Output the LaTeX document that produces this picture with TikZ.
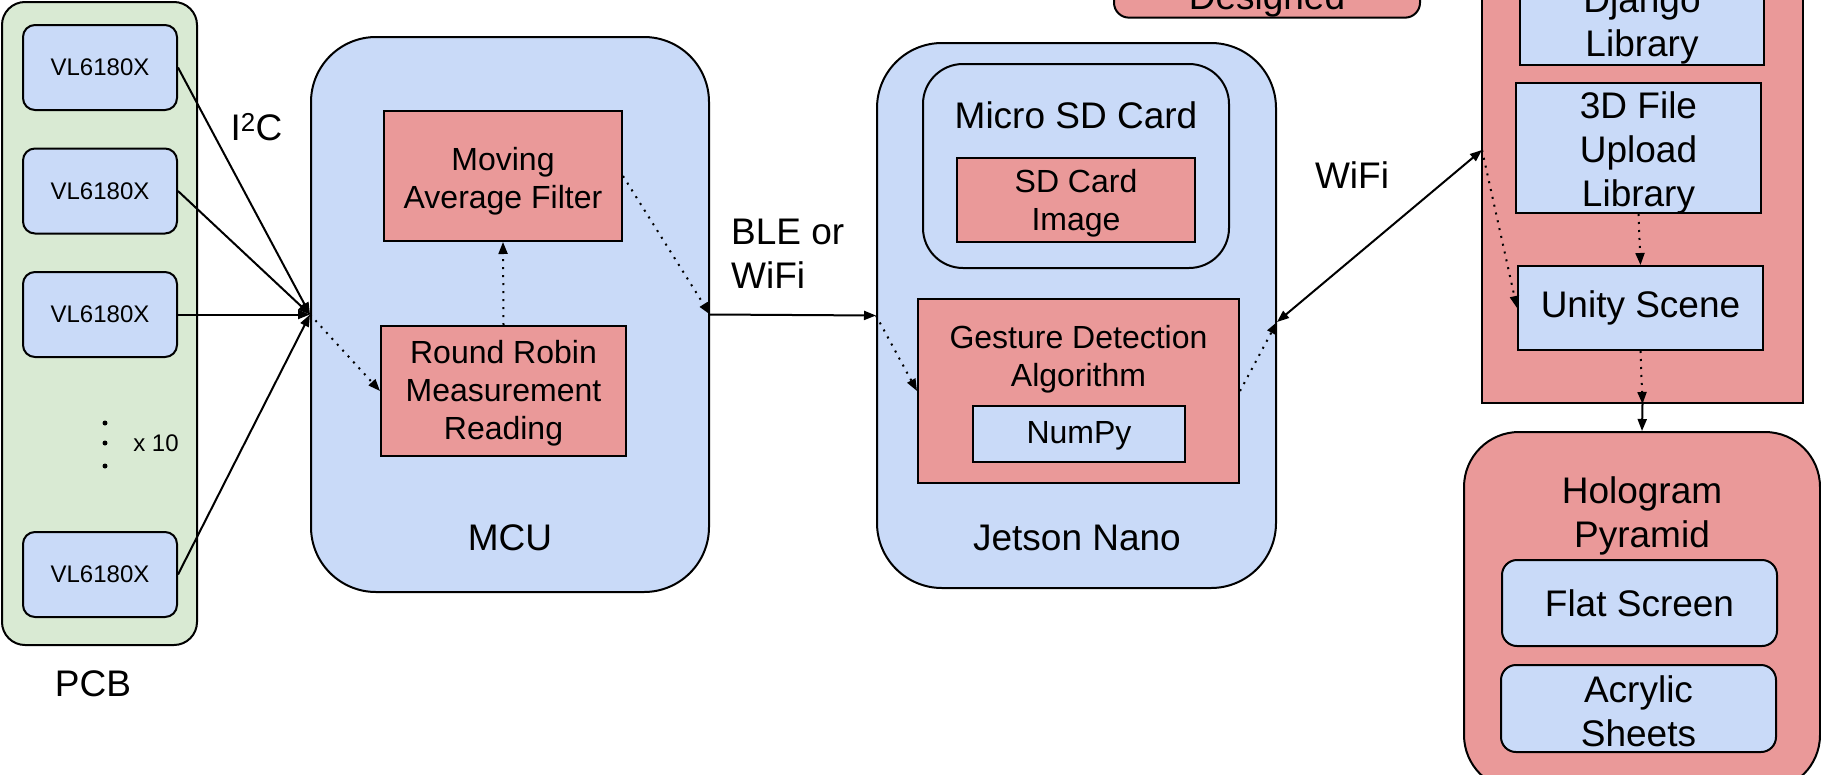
\documentclass[tikz,border=0pt]{standalone}
\usepackage{fontspec}
\setmainfont{Liberation Sans}
\usetikzlibrary{arrows.meta}
\definecolor{bluef}{HTML}{C9DAF8}
\definecolor{redf}{HTML}{EA9999}
\definecolor{greenf}{HTML}{D9EAD3}
\tikzset{
  bx/.style={draw=black, line width=2pt, inner sep=0pt, align=center},
  bluebox/.style={bx, fill=bluef},
  redbox/.style={bx, fill=redf},
  greenbox/.style={bx, fill=greenf},
  fL/.style={font=\fontsize{37}{44}\selectfont},
  fM/.style={font=\fontsize{32}{38}\selectfont},
  fS/.style={font=\fontsize{24}{29}\selectfont},
  lbl/.style={inner sep=0pt, align=center},
  conn/.style={line width=2pt, -{Triangle[length=12pt,width=9pt]}},
  bidir/.style={line width=2pt, {Triangle[length=12pt,width=9pt]}-{Triangle[length=12pt,width=9pt]}},
  dotconn/.style={line width=2pt, dash pattern=on 2pt off 6pt, -{Triangle[length=12pt,width=9pt]}},
}
\begin{document}
\begin{tikzpicture}[x=1pt,y=-1pt]
\useasboundingbox (0,0) rectangle (1821,774);
\clip (0,0) rectangle (1821,774);

% ---------- PCB ----------
\node[greenbox, rounded corners=23pt, minimum width=195pt, minimum height=643pt] (pcb) at (99.5,323.5) {};
\node[bluebox, rounded corners=12pt, minimum width=154pt, minimum height=85pt, fS] (vl1) at (100,67.5) {VL6180X};
\node[bluebox, rounded corners=12pt, minimum width=154pt, minimum height=85pt, fS] (vl2) at (100,191) {VL6180X};
\node[bluebox, rounded corners=12pt, minimum width=154pt, minimum height=85pt, fS] (vl3) at (100,314.5) {VL6180X};
\node[bluebox, rounded corners=12pt, minimum width=154pt, minimum height=85pt, fS] (vl4) at (100,574.5) {VL6180X};
\fill (105,423) circle (2.5pt) (105,443) circle (2.5pt) (105,466) circle (2.5pt);
\node[lbl, fS] (x10) at (156,443) {x 10};
\node[lbl, fL] (pcblbl) at (93,684) {PCB};
\node[lbl, fL] (i2c) at (256.5,127.5) {I\textsuperscript{2}C};

% ---------- MCU ----------
\node[bluebox, rounded corners=65pt, minimum width=398pt, minimum height=555pt] (mcu) at (510,314.5) {};
\node[redbox, minimum width=238pt, minimum height=130pt] (maf) at (503,176) {};
\node[lbl, fM] (maflbl) at (503,181) {Moving\\Average Filter};
\node[redbox, minimum width=245pt, minimum height=130pt] (rr) at (503.5,391) {};
\node[lbl, fM] (rrlbl) at (503.5,393) {Round Robin\\Measurement\\Reading};
\node[lbl, fL] (mculbl) at (510,537.5) {MCU};

\foreach \v in {vl1,vl2,vl3,vl4} \draw[conn] (\v.east) -- (mcu.west);
\draw[dotconn] (mcu.west) -- (rr.west);
\draw[dotconn] (rr.north) -- (maf.south);
\draw[dotconn] (maf.east) -- (mcu.east);

\node[lbl, fL, align=left, anchor=west] (ble) at (731,254) {BLE or\\WiFi};

% ---------- Jetson ----------
\node[bluebox, rounded corners=65pt, minimum width=399pt, minimum height=545pt] (jet) at (1076.5,315.5) {};
\node[bluebox, rounded corners=40pt, minimum width=306pt, minimum height=204pt] (sd) at (1076,166) {};
\node[lbl, fL] (sdlbl) at (1076,115.5) {Micro SD Card};
\node[redbox, minimum width=238pt, minimum height=84pt] (sdimg) at (1076,200) {};
\node[lbl, fM] (sdimglbl) at (1076,203.5) {SD Card\\Image};
\node[redbox, minimum width=321pt, minimum height=184pt] (gest) at (1078.5,391) {};
\node[lbl, fM] (gestlbl) at (1078.5,359) {Gesture Detection\\Algorithm};
\node[bluebox, minimum width=212pt, minimum height=56pt] (numpy) at (1079,434) {};
\node[lbl, fM] (numpylbl) at (1079,436) {NumPy};
\node[lbl, fL] (jetlbl) at (1077,538) {Jetson Nano};

\draw[conn] (mcu.east) -- (jet.west);
\draw[dotconn] (jet.west) -- (gest.west);
\draw[dotconn] (gest.east) -- ([yshift=-6.5pt]jet.east);

% ---------- Legend (cut) ----------
\node[redbox, rounded corners=15pt, minimum width=306pt, minimum height=33pt, fL] (legend) at (1267,0.4) {Designed};

% ---------- Server ----------
\node[redbox, minimum width=321pt, minimum height=463pt] (srv) at (1642.5,171.5) {};
\node[bluebox, minimum width=244pt, minimum height=75pt, fL] (django) at (1642,25.4) {Django\\Library};
\node[bluebox, minimum width=245pt, minimum height=130pt] (upload) at (1638.5,148) {};
\node[lbl, fL] (uploadlbl) at (1638.5,153) {3D File\\Upload\\Library};
\node[bluebox, minimum width=245pt, minimum height=84pt, fL] (unity) at (1640.5,308) {Unity Scene};
\coordinate (srvin) at (1482,150);
\node[lbl, fL] (wifi) at (1352,175) {WiFi};

\draw[bidir] ([yshift=-6.5pt]jet.east) -- (srvin);
\draw[dotconn] (srvin) -- (unity.west);
\draw[dotconn] (upload.south) -- (unity.north);
\draw[dotconn] (unity.south) -- (srv.south);

% ---------- Hologram ----------
\node[redbox, rounded corners=55pt, minimum width=356pt, minimum height=358pt] (holo) at (1642,611) {};
\node[lbl, fL] (hololbl) at (1642,515.5) {Hologram\\Pyramid};
\node[bluebox, rounded corners=15pt, minimum width=275pt, minimum height=86pt, fL] (flat) at (1639.5,603) {Flat Screen};
\node[bluebox, rounded corners=15pt, minimum width=275pt, minimum height=87pt] (acry) at (1638.5,708.5) {};
\node[lbl, fL] (acrylbl) at (1638.5,711) {Acrylic\\Sheets};

\draw[conn] (srv.south) -- (holo.north);
\end{tikzpicture}
\end{document}
